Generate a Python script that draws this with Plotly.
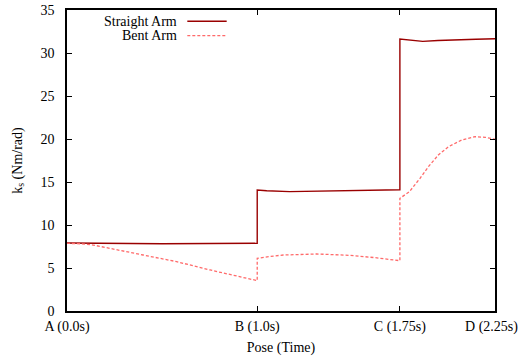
import plotly.graph_objects as go

# ---- data ----
x_tick_vals = [0.0, 1.0, 1.75, 2.25]
x_tick_text = ["A (0.0s)", "B (1.0s)", "C (1.75s)", "D (2.25s)&nbsp;&nbsp;"]
y_tick_vals = [0, 5, 10, 15, 20, 25, 30, 35]

straight_t = [0.0, 0.25, 0.5, 0.75, 1.0, 1.0, 1.05, 1.17, 1.4, 1.6, 1.75, 1.75,
              1.8, 1.87, 1.95, 2.05, 2.15, 2.25]
straight_v = [7.9, 7.85, 7.82, 7.85, 7.87, 14.07, 13.98, 13.88, 13.95, 14.05, 14.1, 31.63,
              31.5, 31.35, 31.45, 31.55, 31.6, 31.65]

bent_t = [0.0, 0.07, 0.138, 0.243, 0.40, 0.576, 0.752, 1.0, 1.0, 1.06, 1.137, 1.313, 1.49,
          1.62, 1.75, 1.75, 1.80, 1.856, 1.90, 1.952, 2.005, 2.075, 2.145, 2.198, 2.25]
bent_v = [7.87, 7.82, 7.67, 7.17, 6.51, 5.74, 4.77, 3.53, 6.12, 6.33, 6.51, 6.63, 6.47,
          6.2, 5.85, 13.1, 13.87, 15.43, 16.78, 18.14, 19.1, 19.88, 20.27, 20.2, 19.97]

series_names = ["Straight Arm", "Bent Arm"]
series_colors = ["#9a0000", "#ff6a6a"]

FONT = "Liberation Serif"

fig = go.Figure()
fig.add_trace(go.Scatter(x=straight_t, y=straight_v, mode="lines", name=series_names[0],
                         line=dict(color=series_colors[0], width=1.4), showlegend=False))
fig.add_trace(go.Scatter(x=bent_t, y=bent_v, mode="lines", name=series_names[1],
                         line=dict(color=series_colors[1], width=1.3, dash="3px,2px"),
                         showlegend=False))

# gnuplot-style legend: text then line sample on the right
leg_y = [0.9625, 0.9146]
dashes = ["solid", "3px,2px"]
widths = [1.4, 1.3]
for name, col, yy, d, w in zip(series_names, series_colors, leg_y, dashes, widths):
    fig.add_annotation(x=0.2617, y=yy, xref="paper", yref="paper", text=name,
                       showarrow=False, xanchor="right", yanchor="middle",
                       font=dict(family=FONT, size=14, color="black"))
    fig.add_shape(type="line", xref="paper", yref="paper", x0=0.2811, x1=0.3731,
                  y0=yy, y1=yy, line=dict(color=col, width=w, dash=d))

axis_common = dict(showline=True, linecolor="black", linewidth=1.5, mirror="ticks",
                   ticks="inside", ticklen=5, tickcolor="black", tickwidth=1,
                   showgrid=False, zeroline=False, automargin=False,
                   ticklabeloverflow="allow",
                   tickfont=dict(family=FONT, size=14, color="black"))

fig.update_xaxes(range=[0, 2.25], tickmode="array", tickvals=x_tick_vals,
                 ticktext=x_tick_text,
                 title=dict(text="Pose (Time)", font=dict(family=FONT, size=14, color="black"),
                            standoff=9),
                 ticklabelstandoff=1, **axis_common)
fig.update_yaxes(range=[0, 35], tickmode="array", tickvals=y_tick_vals,
                 title=dict(text="k<sub>s</sub> (Nm/rad)",
                            font=dict(family=FONT, size=14, color="black"), standoff=15),
                 ticklabelstandoff=8, **axis_common)

fig.update_layout(width=523, height=358, margin=dict(l=67, r=28, t=10, b=47),
                  paper_bgcolor="white", plot_bgcolor="white",
                  font=dict(family=FONT, size=14, color="black"))

fig.write_html("out.html", config={"displayModeBar": False},
               post_script="document.body.style.margin='0px';document.body.style.padding='0px';")
